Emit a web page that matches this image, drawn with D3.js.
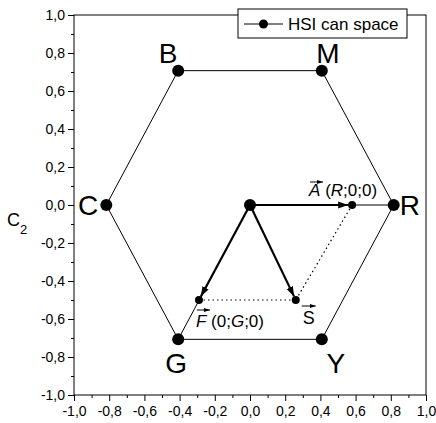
<!DOCTYPE html>
<html>
<head>
<meta charset="utf-8">
<script src="https://cdn.jsdelivr.net/npm/d3@7"></script>
<style>
  body { margin: 0; background: #fff; }
  svg { display: block; font-family: "Liberation Sans", Arial, sans-serif; }
</style>
</head>
<body>
<svg id="chart" width="436" height="423"></svg>
<script>
// ---- data ----
const vertexNames = ["C", "B", "M", "R", "Y", "G"];
const vertexC1 = [-0.8165, -0.408, 0.408, 0.8165, 0.408, -0.408];
const vertexC2 = [0, 0.707, 0.707, 0, -0.707, -0.707];

const originC1 = 0, originC2 = 0;

const vectorNames = ["A", "F", "S"];
const vectorC1 = [0.58, -0.29, 0.26];
const vectorC2 = [0, -0.5, -0.5];

const xTickValues = [-1.0, -0.8, -0.6, -0.4, -0.2, 0.0, 0.2, 0.4, 0.6, 0.8, 1.0];
const xTickLabels = ["-1,0", "-0,8", "-0,6", "-0,4", "-0,2", "0,0", "0,2", "0,4", "0,6", "0,8", "1,0"];
const yTickValues = [-1.0, -0.8, -0.6, -0.4, -0.2, 0.0, 0.2, 0.4, 0.6, 0.8, 1.0];
const yTickLabels = ["-1,0", "-0,8", "-0,6", "-0,4", "-0,2", "0,0", "0,2", "0,4", "0,6", "0,8", "1,0"];
const minorTickValues = [-0.9, -0.7, -0.5, -0.3, -0.1, 0.1, 0.3, 0.5, 0.7, 0.9];

const seriesName = "HSI can space";
const yAxisTitle = "C";
const yAxisSub = "2";

// ---- layout ----
const svg = d3.select("#chart");
const L = 74, R = 426, T = 15, B = 395;
const x = d3.scaleLinear().domain([-1, 1]).range([L, R]);
const y = d3.scaleLinear().domain([-1, 1]).range([B, T]);

// markers
const defs = svg.append("defs");
defs.append("marker")
  .attr("id", "arrow")
  .attr("viewBox", "0 0 10 10")
  .attr("refX", 10).attr("refY", 5)
  .attr("markerWidth", 4.5).attr("markerHeight", 4.5)
  .attr("markerUnits", "strokeWidth")
  .attr("orient", "auto")
  .append("path").attr("d", "M0,1.5 L10,5 L0,8.5 Z").attr("fill", "#000");
defs.append("marker")
  .attr("id", "smallArrow")
  .attr("viewBox", "0 0 10 10")
  .attr("refX", 10).attr("refY", 5)
  .attr("markerWidth", 6).attr("markerHeight", 6)
  .attr("markerUnits", "userSpaceOnUse")
  .attr("orient", "auto")
  .append("path").attr("d", "M0,1.5 L10,5 L0,8.5 Z").attr("fill", "#000");

// frame
svg.append("rect")
  .attr("x", L).attr("y", T).attr("width", R - L).attr("height", B - T)
  .attr("fill", "none").attr("stroke", "#000").attr("stroke-width", 1);

// axes
const xAxis = d3.axisBottom(x).tickValues(xTickValues)
  .tickFormat((d, i) => xTickLabels[i]).tickSize(6).tickPadding(5);
const gx = svg.append("g").attr("transform", `translate(0,${B})`).call(xAxis);
gx.select(".domain").remove();
gx.selectAll("text").attr("font-size", 14).attr("font-family", "Liberation Sans, Arial, sans-serif");

const xMinor = d3.axisBottom(x).tickValues(minorTickValues).tickFormat("").tickSize(3);
const gxm = svg.append("g").attr("transform", `translate(0,${B})`).call(xMinor);
gxm.select(".domain").remove();

const yAxis = d3.axisLeft(y).tickValues(yTickValues)
  .tickFormat((d, i) => yTickLabels[i]).tickSize(6).tickPadding(3);
const gy = svg.append("g").attr("transform", `translate(${L},0)`).call(yAxis);
gy.select(".domain").remove();
gy.selectAll("text").attr("font-size", 14).attr("font-family", "Liberation Sans, Arial, sans-serif");

const yMinor = d3.axisLeft(y).tickValues(minorTickValues).tickFormat("").tickSize(3);
const gym = svg.append("g").attr("transform", `translate(${L},0)`).call(yMinor);
gym.select(".domain").remove();

// y axis title
const yt = svg.append("text").attr("x", 7).attr("y", 226).attr("font-size", 18);
yt.append("tspan").text(yAxisTitle);
yt.append("tspan").attr("dy", 8).attr("font-size", 13).text(yAxisSub);

// hexagon
const hexPts = vertexC1.map((c, i) => [c, vertexC2[i]]);
hexPts.push(hexPts[0]);
const line = d3.line().x(d => x(d[0])).y(d => y(d[1]));
svg.append("path").attr("d", line(hexPts))
  .attr("fill", "none").attr("stroke", "#000").attr("stroke-width", 1);

// thin lines from origin to R and G
const iR = vertexNames.indexOf("R"), iG = vertexNames.indexOf("G");
[iR, iG].forEach(i => {
  svg.append("line")
    .attr("x1", x(originC1)).attr("y1", y(originC2))
    .attr("x2", x(vertexC1[i])).attr("y2", y(vertexC2[i]))
    .attr("stroke", "#000").attr("stroke-width", 1);
});

// dotted lines: F -> S, A -> S
const iA = 0, iF = 1, iS = 2;
[[iF, iS], [iA, iS]].forEach(([a, b]) => {
  svg.append("line")
    .attr("x1", x(vectorC1[a])).attr("y1", y(vectorC2[a]))
    .attr("x2", x(vectorC1[b])).attr("y2", y(vectorC2[b]))
    .attr("stroke", "#000").attr("stroke-width", 1.2)
    .attr("stroke-dasharray", "1.5,3");
});

// thick vectors from origin
vectorC1.forEach((c, i) => {
  const x0 = x(originC1), y0 = y(originC2);
  const x1 = x(c), y1 = y(vectorC2[i]);
  const len = Math.hypot(x1 - x0, y1 - y0);
  const shrink = 4;
  svg.append("line")
    .attr("x1", x0).attr("y1", y0)
    .attr("x2", x1 - (x1 - x0) / len * shrink)
    .attr("y2", y1 - (y1 - y0) / len * shrink)
    .attr("stroke", "#000").attr("stroke-width", 2.2)
    .attr("marker-end", "url(#arrow)");
});

// points
svg.selectAll("circle.vertex").data(vertexC1).join("circle")
  .attr("class", "vertex")
  .attr("cx", d => x(d)).attr("cy", (d, i) => y(vertexC2[i])).attr("r", 6).attr("fill", "#000");
svg.append("circle").attr("cx", x(originC1)).attr("cy", y(originC2)).attr("r", 6).attr("fill", "#000");
svg.selectAll("circle.vec").data(vectorC1).join("circle")
  .attr("class", "vec")
  .attr("cx", d => x(d)).attr("cy", (d, i) => y(vectorC2[i])).attr("r", 4).attr("fill", "#000");

// vertex labels
const vLabelOffset = {
  C: [-8, 10, "end"], B: [-10, -8, "middle"], M: [6, -8, "middle"],
  R: [6, 10, "start"], Y: [14, 34, "middle"], G: [-2, 34, "middle"]
};
vertexNames.forEach((n, i) => {
  const o = vLabelOffset[n];
  svg.append("text")
    .attr("x", x(vertexC1[i]) + o[0]).attr("y", y(vertexC2[i]) + o[1])
    .attr("text-anchor", o[2]).attr("font-size", 28).text(n);
});

// vector labels
function arrowOver(x1, x2, yy) {
  svg.append("line").attr("x1", x1).attr("x2", x2).attr("y1", yy).attr("y2", yy)
    .attr("stroke", "#000").attr("stroke-width", 1).attr("marker-end", "url(#smallArrow)");
}
// A label
{
  const px = x(vectorC1[iA]), py = y(vectorC2[iA]);
  const t = svg.append("text").attr("x", px - 43).attr("y", py - 9).attr("font-size", 17);
  t.append("tspan").attr("font-style", "italic").text("A");
  t.append("tspan").text(" (");
  t.append("tspan").attr("font-style", "italic").text("R");
  t.append("tspan").text(";0;0)");
  arrowOver(px - 42, px - 29, py - 23);
}
// F label
{
  const px = x(vectorC1[iF]), py = y(vectorC2[iF]);
  const t = svg.append("text").attr("x", px - 3).attr("y", py + 27).attr("font-size", 17);
  t.append("tspan").attr("font-style", "italic").text("F");
  t.append("tspan").text(" (0;");
  t.append("tspan").attr("font-style", "italic").text("G");
  t.append("tspan").text(";0)");
  arrowOver(px - 2, px + 11, py + 10);
}
// S label
{
  const px = x(vectorC1[iS]), py = y(vectorC2[iS]);
  svg.append("text").attr("x", px + 7).attr("y", py + 24).attr("font-size", 18).text("S");
  arrowOver(px + 6, px + 20, py + 6);
}

// legend
const lg = svg.append("g");
lg.append("rect").attr("x", 238).attr("y", 9).attr("width", 169).attr("height", 29)
  .attr("fill", "#fff").attr("stroke", "#000").attr("stroke-width", 1);
lg.append("line").attr("x1", 244).attr("x2", 283).attr("y1", 24).attr("y2", 24)
  .attr("stroke", "#000").attr("stroke-width", 1);
lg.append("circle").attr("cx", 263.5).attr("cy", 24).attr("r", 4.5).attr("fill", "#000");
lg.append("text").attr("x", 288).attr("y", 30).attr("font-size", 17).text(seriesName);
</script>
</body>
</html>
